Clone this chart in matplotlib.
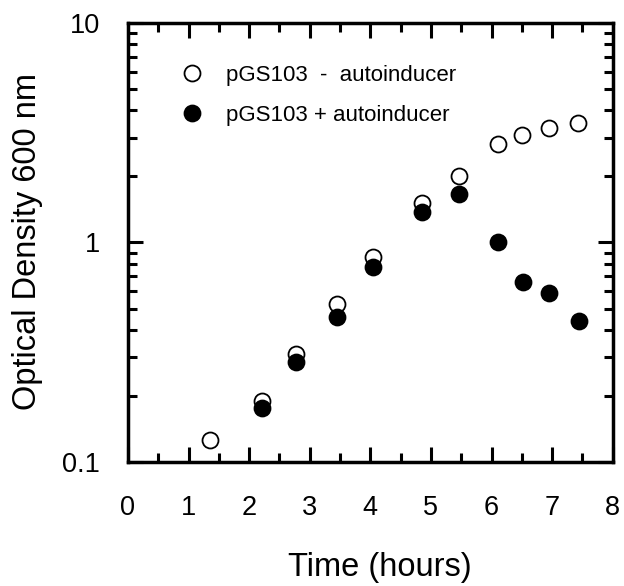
import matplotlib.pyplot as plt
from matplotlib.ticker import LogLocator, FixedLocator, NullFormatter, FixedFormatter

plt.rcParams['font.family'] = ['Liberation Sans', 'DejaVu Sans']

# pGS103 - autoinducer
t_minus = [1.35, 2.21, 2.78, 3.45, 4.04, 4.86, 5.46, 6.10, 6.51, 6.94, 7.43]
od_minus = [0.126, 0.19, 0.31, 0.525, 0.86, 1.51, 2.0, 2.81, 3.09, 3.33, 3.51]
# pGS103 + autoinducer
t_plus = [2.21, 2.78, 3.45, 4.04, 4.86, 5.46, 6.10, 6.52, 6.95, 7.44]
od_plus = [0.177, 0.286, 0.456, 0.776, 1.37, 1.66, 1.0, 0.66, 0.59, 0.44]

x_ticks = [0, 1, 2, 3, 4, 5, 6, 7, 8]
y_ticks = [0.1, 1, 10]
y_labels = ['0.1', '1', '10']

fig = plt.figure(figsize=(6.24, 5.86), dpi=100)
ax = fig.add_axes([0.205, 0.2116, 0.777, 0.7492])

ax.plot(t_minus, od_minus, 'o', ms=11.5, mfc='white', mec='black', mew=1.3,
        label='pGS103  -  autoinducer')
ax.plot(t_plus, od_plus, 'o', ms=11.5, mfc='black', mec='black', mew=1.3,
        label='pGS103 + autoinducer')

ax.set_yscale('log')
ax.set_xlim(0, 8)
ax.set_ylim(0.1, 10)

ax.xaxis.set_major_locator(FixedLocator(x_ticks))
ax.xaxis.set_minor_locator(FixedLocator([i + 0.5 for i in range(8)]))
ax.yaxis.set_major_locator(FixedLocator(y_ticks))
ax.yaxis.set_major_formatter(FixedFormatter(y_labels))
ax.yaxis.set_minor_locator(LogLocator(base=10, subs=range(2, 10)))
ax.yaxis.set_minor_formatter(NullFormatter())

for s in ax.spines.values():
    s.set_linewidth(2.5)
ax.tick_params(which='both', direction='in', top=True, right=True, width=2.2,
               labelsize=19.5)
ax.tick_params(which='major', length=11)
ax.tick_params(which='minor', length=6.5)
ax.tick_params(axis='x', which='major', pad=24)
ax.tick_params(axis='y', which='major', pad=20)

ax.set_xlabel('Time (hours)', fontsize=23.5)
ax.set_ylabel('Optical Density 600 nm', fontsize=23.5)
ax.xaxis.set_label_coords(0.519, -0.205)
ax.yaxis.set_label_coords(-0.175, 0.502)

ax.legend(loc='upper left', bbox_to_anchor=(0.0735, 0.945), frameon=False,
          fontsize=16, handletextpad=1.0, labelspacing=0.87, borderpad=0.3,
          handlelength=1.0)

fig.savefig('out.png', dpi=100)
